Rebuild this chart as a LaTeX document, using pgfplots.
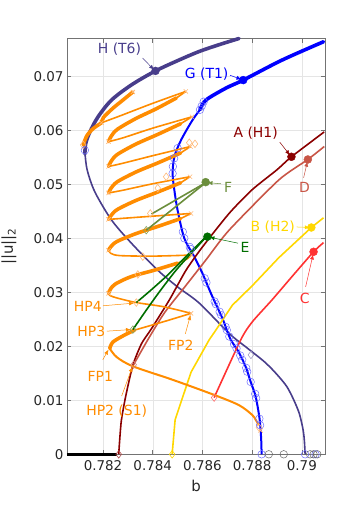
\documentclass[border=0pt]{standalone}
\usepackage{fontspec}
\setmainfont{DejaVu Sans}
\usepackage{pgfplots}
\pgfplotsset{compat=1.18}
\usetikzlibrary{arrows.meta}

\definecolor{cH}{RGB}{72,61,139}
\definecolor{cG}{RGB}{0,0,255}
\definecolor{cGl}{RGB}{110,110,255}
\definecolor{cA}{RGB}{139,0,0}
\definecolor{cD}{RGB}{200,85,70}
\definecolor{cB}{RGB}{255,215,0}
\definecolor{cC}{RGB}{255,50,50}
\definecolor{cE}{RGB}{0,110,0}
\definecolor{cF}{RGB}{107,142,60}
\definecolor{cO}{RGB}{255,140,0}
\definecolor{cOl}{RGB}{255,185,120}

\tikzset{
  thk/.style={line width=3.6bp, line join=round, line cap=round},
  thn/.style={line width=1.6bp, line join=round},
  ann/.style={line width=0.5bp, -{Latex[length=5bp,width=4bp]}},
  lab/.style={font=\fontsize{14}{16}\selectfont},
}

\begin{document}
\begin{tikzpicture}
\useasboundingbox (-67bp,-56.7bp) rectangle (293bp,454.3bp);
\begin{axis}[
  scale only axis, width=258bp, height=416bp,
  at={(0,0)}, anchor=south west,
  xmin=0.78055, xmax=0.79093, ymin=0, ymax=0.07704,
  xtick={0.782,0.784,0.786,0.788,0.79},
  xticklabels={0.782,0.784,0.786,0.788,0.79},
  ytick={0,0.01,0.02,0.03,0.04,0.05,0.06,0.07},
  yticklabels={0,0.01,0.02,0.03,0.04,0.05,0.06,0.07},
  scaled x ticks=false, scaled y ticks=false,
  grid=major, major grid style={black!10, line width=0.5bp},
  axis line style={black!55, line width=0.6bp},
  major tick style={black!55, line width=0.6bp},
  major tick length=4.5bp,
  tick label style={font=\fontsize{13.5}{15}\selectfont, text=black!85},
  xticklabel style={yshift=-3bp},
  label style={font=\fontsize{15}{17}\selectfont, text=black!85},
  xlabel={b}, ylabel={||u||\textsubscript{2}},
  xlabel style={at={(axis description cs:0.5,-0.077)}, anchor=center},
  ylabel style={at={(axis description cs:-0.225,0.5)}, anchor=center},
  clip=false,
]

% trivial branch
\addplot[black, line width=3.5bp] coordinates {(0.78055,0) (0.78255,0)};

% H (T6)
\addplot[cH, thn, smooth, tension=0.5] coordinates {
(0.79013,0) (0.79010,0.0025) (0.79005,0.0045) (0.78990,0.0075) (0.78967,0.0101)
(0.78940,0.0125) (0.78907,0.0144) (0.78875,0.0160) (0.7884,0.0175) (0.78774,0.0199)
(0.78707,0.0224) (0.78587,0.0280) (0.7850,0.0310) (0.7842,0.0341) (0.78314,0.0391)
(0.78234,0.0434) (0.78167,0.0486) (0.78136,0.0527) (0.78127,0.0560)};
\addplot[cH, thk, smooth, tension=0.5] coordinates {
(0.78127,0.0556) (0.78130,0.0575) (0.78147,0.0597) (0.7818,0.0625) (0.78234,0.0656)
(0.78314,0.0684) (0.78407,0.0709) (0.7850,0.0729) (0.78587,0.0746) (0.78670,0.0759)
(0.78747,0.0770)};

% G (T1)
\addplot[cG, line width=2bp, smooth, tension=0.5] coordinates {
(0.78838,0) (0.78836,0.003) (0.78830,0.0065) (0.78814,0.0107) (0.78794,0.0134)
(0.78774,0.0162) (0.78745,0.0190) (0.78712,0.0214) (0.7868,0.0252) (0.78637,0.0295)
(0.7860,0.0335) (0.78567,0.0366) (0.78527,0.0400) (0.785,0.0452) (0.78487,0.0489)
(0.7848,0.0520) (0.78487,0.0551) (0.78514,0.0582) (0.7856,0.0619) (0.78590,0.0638)};
\addplot[cG, thk, smooth, tension=0.5] coordinates {
(0.78590,0.0638) (0.78614,0.0656) (0.78694,0.0678) (0.78764,0.0693) (0.7892,0.0730)
(0.79087,0.0764)};

% A (H1)
\addplot[cA, thn, smooth, tension=0.4] coordinates {
(0.78263,0) (0.78273,0.0060) (0.78291,0.0107) (0.7832,0.0165) (0.78355,0.0205)
(0.78394,0.0232) (0.78467,0.0286) (0.78534,0.0341) (0.786,0.0384) (0.78707,0.0446)
(0.7880,0.0490) (0.7890,0.0527) (0.78958,0.0551) (0.7909,0.0597)};

% D
\addplot[cD, thn, smooth, tension=0.4] coordinates {
(0.78323,0.0166) (0.7838,0.0212) (0.78447,0.0262) (0.78534,0.0313) (0.78614,0.0360)
(0.78707,0.0415) (0.78907,0.0508) (0.79024,0.0546) (0.7909,0.0570)};

% B (H2)
\addplot[cB, thn] coordinates {
(0.78478,0) (0.7849,0.0064) (0.78554,0.0152) (0.78627,0.0212) (0.78654,0.0230)
(0.7872,0.0276) (0.7880,0.0312) (0.78907,0.0364) (0.79038,0.0420) (0.79087,0.0438)};

% C
\addplot[cC, thn, smooth, tension=0.4] coordinates {
(0.78647,0.0105) (0.78754,0.0212) (0.7880,0.0245) (0.7888,0.0286) (0.7896,0.0329)
(0.79047,0.0375) (0.79087,0.0392)};

% snaking branch: bottom part
\addplot[cO, line width=2bp, smooth, tension=0.5] coordinates {
(0.78827,0.0054) (0.78814,0.0064) (0.7880,0.0073) (0.78747,0.0091) (0.78647,0.0110)
(0.7848,0.0138) (0.7832,0.0163) (0.78255,0.0180) (0.78227,0.0196)};
% up-right arms (thick, then thin near the tip)
\addplot[cO, thk, smooth] coordinates {(0.78227,0.0196) (0.7824,0.0208) (0.78287,0.0221) (0.78327,0.0230)};
\addplot[cO, thn, smooth] coordinates {(0.78327,0.0230) (0.78447,0.0246) (0.78554,0.0261)};
\addplot[cO, thk, smooth] coordinates {(0.78222,0.0298) (0.78230,0.0306) (0.7825,0.03155) (0.78313,0.0329) (0.78407,0.0341) (0.78500,0.0354)};
\addplot[cO, thn, smooth] coordinates {(0.78500,0.0354) (0.78535,0.0361) (0.78556,0.0369)};
\addplot[cO, thk, smooth] coordinates {(0.78222,0.0378) (0.78232,0.03848) (0.78257,0.03943) (0.78332,0.04086) (0.78422,0.04222) (0.78512,0.04365)};
\addplot[cO, thn, smooth] coordinates {(0.78512,0.04365) (0.78554,0.0446)};
\addplot[cO, thk, smooth] coordinates {(0.78222,0.0435) (0.78232,0.0442) (0.78257,0.04532) (0.78332,0.0470) (0.78422,0.0486) (0.78512,0.05028)};
\addplot[cO, thn, smooth] coordinates {(0.78512,0.05028) (0.78550,0.0514)};
\addplot[cO, thk, smooth] coordinates {(0.78222,0.0484) (0.78232,0.04926) (0.78257,0.05046) (0.78332,0.05227) (0.78422,0.05399) (0.78512,0.0558)};
\addplot[cO, thn, smooth] coordinates {(0.78512,0.0558) (0.78552,0.0570)};
\addplot[cO, thk, smooth] coordinates {(0.78222,0.0533) (0.78232,0.05422) (0.78257,0.05551) (0.78332,0.05744) (0.78422,0.05928) (0.78512,0.06121)};
\addplot[cO, thn, smooth] coordinates {(0.78512,0.06121) (0.78558,0.0625)};
\addplot[cO, thk, smooth] coordinates {(0.78222,0.0579) (0.78232,0.05884) (0.78257,0.06016) (0.78330,0.06213) (0.78415,0.06401) (0.78495,0.06598)};
\addplot[cO, thn, smooth] coordinates {(0.78495,0.06598) (0.78533,0.0672)};
\addplot[cO, thk, smooth] coordinates {(0.78194,0.0614) (0.78202,0.0624) (0.7824,0.0641) (0.78280,0.0656) (0.7832,0.0671)};
\addplot[cO, thk, smooth] coordinates {(0.7812,0.0573) (0.78135,0.0590) (0.7816,0.0603) (0.78194,0.0614)};
% down-left arms (thin)
\addplot[cO, thn, smooth] coordinates {(0.78554,0.0261) (0.78447,0.0273) (0.78334,0.0281) (0.7826,0.0289) (0.78228,0.0294) (0.78222,0.0298)};
\addplot[cO, thn, smooth] coordinates {(0.78556,0.0369) (0.7840,0.0367) (0.78267,0.0368) (0.78232,0.0372) (0.78222,0.0378)};
\addplot[cO, thn, smooth] coordinates {(0.78554,0.0446) (0.7840,0.0441) (0.7828,0.0437) (0.78222,0.0435)};
\addplot[cO, thn, smooth] coordinates {(0.78550,0.0514) (0.7840,0.0501) (0.7828,0.0489) (0.78222,0.0484)};
\addplot[cO, thn, smooth] coordinates {(0.78552,0.0570) (0.7840,0.0553) (0.7828,0.0539) (0.78222,0.0533)};
\addplot[cO, thn, smooth] coordinates {(0.78558,0.0625) (0.7840,0.0604) (0.7828,0.0586) (0.78222,0.0579)};
\addplot[cO, thn, smooth] coordinates {(0.78533,0.0672) (0.7840,0.0650) (0.7827,0.0627) (0.78194,0.0614)};

% fold markers on the snaking branch
\addplot[only marks, mark=x, mark size=3, cOl, line width=0.6bp] coordinates {
(0.78554,0.0261) (0.78222,0.0298) (0.78556,0.0369) (0.78222,0.0378) (0.78554,0.0446)
(0.78222,0.0435) (0.78550,0.0514) (0.78222,0.0484) (0.78552,0.0570) (0.78222,0.0533)
(0.78558,0.0625) (0.78222,0.0579) (0.78533,0.0672) (0.78194,0.0614) (0.7832,0.0671)
(0.78834,0.0044)};
\addplot[only marks, mark=diamond, mark size=3.8, cOl, line width=0.6bp] coordinates {
(0.78334,0.0281) (0.7834,0.0333) (0.7836,0.0366) (0.78390,0.0446) (0.7842,0.0493)
(0.78454,0.0514) (0.78547,0.0577) (0.78570,0.0575) (0.7812,0.0573) (0.78827,0.0050)};

% E connections
\addplot[cE, thn, smooth] coordinates {(0.78334,0.0281) (0.784,0.0307) (0.78467,0.0335) (0.78533,0.0366) (0.78615,0.0403)};
\addplot[cE, thn, smooth] coordinates {(0.7832,0.0231) (0.78374,0.0267) (0.78427,0.0301) (0.78494,0.0341) (0.7856,0.0375) (0.78615,0.0403)};
\addplot[cE, thn] coordinates {(0.78547,0.0369) (0.78615,0.0403)};
% F connections
\addplot[cF, thn] coordinates {(0.78374,0.0415) (0.78613,0.0503)};
\addplot[cF, thn] coordinates {(0.78395,0.0445) (0.78613,0.0503)};

% starting points of branches
\addplot[only marks, mark=diamond, mark size=3.8, cA!70, line width=0.6bp] coordinates {(0.78263,0)};
\addplot[only marks, mark=diamond, mark size=3.8, cB, line width=0.6bp] coordinates {(0.78478,0)};
\addplot[only marks, mark=diamond, mark size=3.8, cC!70, line width=0.6bp] coordinates {(0.78647,0.0105)};
\addplot[only marks, mark=diamond, mark size=3.8, cD!70, line width=0.6bp] coordinates {(0.78323,0.0166)};
\addplot[only marks, mark=diamond, mark size=3.8, cF!80, line width=0.6bp] coordinates {(0.7832,0.0231) (0.78374,0.0415)};
\addplot[only marks, mark=diamond, mark size=3.8, cH!50, line width=0.6bp] coordinates {(0.78795,0.0184)};

% stability change markers
\addplot[only marks, mark=o, mark size=3.8, cGl, line width=0.5bp] coordinates {
(0.78838,0) (0.78832,0.0054) (0.78829,0.0066) (0.78816,0.0104) (0.78812,0.0112)
(0.78794,0.0134) (0.7878,0.0153) (0.78776,0.0160) (0.7876,0.0175) (0.78752,0.0183)
(0.78737,0.0196) (0.78727,0.0204) (0.78708,0.0218) (0.78698,0.0230) (0.78693,0.0236)
(0.78675,0.0258) (0.78669,0.0264) (0.78654,0.0278) (0.78649,0.0283) (0.78616,0.0318)
(0.78609,0.0326) (0.78553,0.0380) (0.78549,0.0384) (0.78527,0.0400) (0.78521,0.0412)
(0.7848,0.0520) (0.78481,0.0533) (0.78486,0.0548) (0.785,0.0567) (0.7859,0.0638)
(0.78597,0.0645) (0.78605,0.0653) (0.78127,0.0563) (0.79013,0) (0.79055,0)};
\addplot[only marks, mark=o, mark size=3.8, black!60, line width=0.5bp] coordinates {
(0.78867,0) (0.78927,0) (0.79033,0) (0.79047,0) (0.79062,0)};

% labelled points
\addplot[only marks, mark=*, mark size=4, cH] coordinates {(0.78411,0.0710)};
\addplot[only marks, mark=*, mark size=4, cG] coordinates {(0.78764,0.0693)};
\addplot[only marks, mark=*, mark size=4, cA] coordinates {(0.78958,0.0551)};
\addplot[only marks, mark=*, mark size=4, cD] coordinates {(0.79024,0.0546)};
\addplot[only marks, mark=*, mark size=4, cB] coordinates {(0.79038,0.0420)};
\addplot[only marks, mark=*, mark size=4, cC] coordinates {(0.79047,0.0375)};
\addplot[only marks, mark=*, mark size=4, cE] coordinates {(0.78620,0.0403)};
\addplot[only marks, mark=*, mark size=4, cF] coordinates {(0.78613,0.0504)};

% annotations
\draw[ann, cH] (axis cs:0.78359,0.0734) -- (axis cs:0.78405,0.0712);
\node[lab, text=cH] at (axis cs:0.78266,0.07506) {H (T6)};
\draw[ann, cG] (axis cs:0.78711,0.0702) -- (axis cs:0.78757,0.0694);
\node[lab, text=cG] at (axis cs:0.78617,0.0704) {G (T1)};
\draw[ann, cA] (axis cs:0.78911,0.0578) -- (axis cs:0.78952,0.0554);
\node[lab, text=cA] at (axis cs:0.78814,0.0595) {A (H1)};
\draw[ann, cD] (axis cs:0.79007,0.0512) -- (axis cs:0.79022,0.0542);
\node[lab, text=cD] at (axis cs:0.79011,0.0494) {D};
\draw[ann, cF] (axis cs:0.78675,0.0501) -- (axis cs:0.78620,0.0503);
\node[lab, text=cF] at (axis cs:0.78703,0.0494) {F};
\draw[ann, cE] (axis cs:0.78743,0.0391) -- (axis cs:0.78628,0.0402);
\node[lab, text=cE] at (axis cs:0.78771,0.0384) {E};
\draw[ann, cB] (axis cs:0.78979,0.0421) -- (axis cs:0.79032,0.0420);
\node[lab, text=cB] at (axis cs:0.78883,0.0420) {B (H2)};
\draw[ann, cC] (axis cs:0.79015,0.0310) -- (axis cs:0.79045,0.0370);
\node[lab, text=cC] at (axis cs:0.79011,0.0288) {C};
\draw[ann, cO] (axis cs:0.78199,0.0275) -- (axis cs:0.78325,0.0280);
\node[lab, text=cO] at (axis cs:0.78139,0.0274) {HP4};
\draw[ann, cO] (axis cs:0.78215,0.0228) -- (axis cs:0.78312,0.0231);
\node[lab, text=cO] at (axis cs:0.78153,0.0228) {HP3};
\draw[ann, cO] (axis cs:0.78531,0.0223) -- (axis cs:0.78552,0.0258);
\node[lab, text=cO] at (axis cs:0.78513,0.0201) {FP2};
\draw[ann, cO] (axis cs:0.78199,0.0175) -- (axis cs:0.78222,0.0194);
\node[lab, text=cO] at (axis cs:0.78189,0.0145) {FP1};
\draw[ann, cO] (axis cs:0.78275,0.0108) -- (axis cs:0.78318,0.0162);
\node[lab, text=cO] at (axis cs:0.78255,0.0080) {HP2 (S1)};

\end{axis}
\end{tikzpicture}
\end{document}
